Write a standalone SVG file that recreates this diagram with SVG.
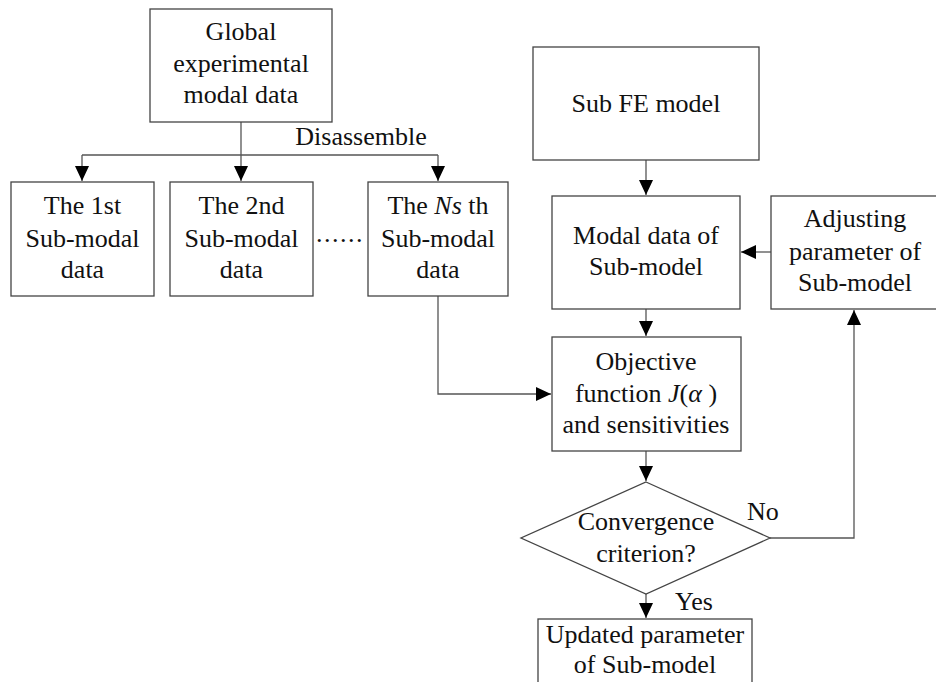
<svg xmlns="http://www.w3.org/2000/svg" width="936" height="682" viewBox="0 0 936 682">
<style>
.box{fill:#fff;stroke:#444;stroke-width:1.3}
.ln{fill:none;stroke:#555;stroke-width:1.3}
text{font-family:'Liberation Serif','DejaVu Serif',serif;font-size:26px;fill:#111;text-anchor:middle}
.l{text-anchor:start}
</style>
<defs>
<marker id="ah" markerUnits="userSpaceOnUse" markerWidth="15" markerHeight="14" refX="15" refY="7" orient="auto">
<path d="M0,0 L15,7 L0,14 z" fill="#000"/>
</marker>
</defs>
<rect width="936" height="682" fill="#fff"/>
<g id="connectors">
<path class="ln" d="M241,122 V181" marker-end="url(#ah)"/>
<path class="ln" d="M82,155 H438"/>
<path class="ln" d="M82,155 V181" marker-end="url(#ah)"/>
<path class="ln" d="M438,155 V181" marker-end="url(#ah)"/>
<path class="ln" d="M646,160 V195" marker-end="url(#ah)"/>
<path class="ln" d="M646,309 V336" marker-end="url(#ah)"/>
<path class="ln" d="M438,296 V394 H551" marker-end="url(#ah)"/>
<path class="ln" d="M646,451 V481" marker-end="url(#ah)"/>
<path class="ln" d="M770,538 H854 V310" marker-end="url(#ah)"/>
<path class="ln" d="M771,252 H741" marker-end="url(#ah)"/>
<path class="ln" d="M646,594 V618" marker-end="url(#ah)"/>
</g>
<g id="global"><rect class="box" x="150" y="9" width="182" height="113"/>
<text x="241" y="40">Global</text><text x="241" y="72">experimental</text><text x="241" y="103">modal data</text></g>
<g id="disassemble"><text x="361" y="145">Disassemble</text></g>
<g id="sub1"><rect class="box" x="11" y="182" width="143" height="114"/>
<text x="82.5" y="214">The 1st</text><text x="82.5" y="247">Sub-modal</text><text x="82.5" y="278">data</text></g>
<g id="sub2"><rect class="box" x="170" y="182" width="143" height="114"/>
<text x="241.5" y="214">The 2nd</text><text x="241.5" y="247">Sub-modal</text><text x="241.5" y="278">data</text></g>
<g id="dots"><text x="340" y="242" style="letter-spacing:1.5px">......</text></g>
<g id="subNs"><rect class="box" x="368" y="182" width="140" height="114"/>
<text x="438" y="214">The <tspan font-style="italic">Ns</tspan> th</text><text x="438" y="247">Sub-modal</text><text x="438" y="278">data</text></g>
<g id="subfe"><rect class="box" x="533" y="47" width="226" height="113"/>
<text x="646" y="112">Sub FE model</text></g>
<g id="modal"><rect class="box" x="552" y="196" width="188" height="113"/>
<text x="646" y="244">Modal data of</text><text x="646" y="275">Sub-model</text></g>
<g id="adjust"><rect class="box" x="771" y="196" width="166" height="113"/>
<text x="855" y="227">Adjusting</text><text x="855" y="260">parameter of</text><text x="855" y="291">Sub-model</text></g>
<g id="objective"><rect class="box" x="552" y="337" width="189" height="114"/>
<text x="646" y="370">Objective</text><text x="646" y="402">function <tspan font-style="italic">J</tspan>(<tspan font-style="italic">α</tspan> )</text><text x="646" y="433">and sensitivities</text></g>
<g id="convergence"><polygon class="box" points="646,482 770,538 646,594 521,538"/>
<text x="646" y="530">Convergence</text><text x="646" y="562">criterion?</text></g>
<g id="no"><text class="l" x="747" y="520">No</text></g>
<g id="yes"><text class="l" x="675" y="610">Yes</text></g>
<g id="updated"><rect class="box" x="538" y="619" width="214" height="80"/>
<text x="645" y="643">Updated parameter</text><text x="645" y="673">of Sub-model</text></g>
</svg>
